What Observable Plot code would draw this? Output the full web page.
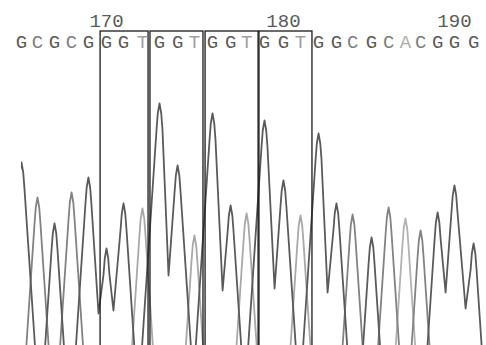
<!DOCTYPE html>
<html>
<head>
<meta charset="utf-8">
<script src="https://cdn.jsdelivr.net/npm/d3@7"></script>
<script src="https://cdn.jsdelivr.net/npm/@observablehq/plot@0.6"></script>
<style>
  html, body { margin: 0; padding: 0; background: #ffffff; }
  #chart svg { display: block; background: #ffffff; }
</style>
</head>
<body>
<div id="chart"></div>
<script>
// ---- data ----
const bases = "GCGCGGGTGGTGGTGGTGGCGCACGGG".split("");
const firstBaseNumber = 165;
// peak centre (base-position units) and peak intensity (arbitrary units)
const peakPos = [165.00, 165.92, 166.90, 167.88, 168.85, 169.89, 170.87, 171.96, 172.94,
                 173.98, 174.95, 175.99, 177.03, 177.95, 178.98, 180.07, 181.05, 182.09,
                 183.12, 184.05, 185.14, 186.12, 187.09, 187.96, 188.94, 189.91, 191.01];
const peakHeight = [3310, 2960, 2700, 3010, 3160, 2450, 2900, 2850, 3900,
                    3280, 2580, 3800, 2880, 2800, 3730, 3130, 2780, 3600,
                    2900, 2790, 2560, 2860, 2750, 2630, 2810, 3080, 2500];
// valleys between two neighbouring peaks of the same base (index of the left peak)
const valleyAfter  = [4, 5, 8, 11, 14, 17, 24, 25];
const valleyPos    = [169.43, 170.29, 173.46, 176.57, 179.56, 182.61, 189.40, 190.55];
const valleyHeight = [1800, 1830, 2180, 2030, 2050, 2010, 2010, 1850];
// position tick labels
const tickLabels = ["170", "180", "190"];
const tickBase   = [170, 180, 190];
// boxed GGT repeats
const boxStart = [169.55, 172.42, 175.59, 178.69];
const boxEnd   = [172.31, 175.47, 178.64, 181.74];

// ---- peak shape / styles ----
const sideSlope = 2600;              // intensity per base unit on the flanks
const tipShape = [[0.10, 100], [0.17, 260]];  // rounded tip: [half width, drop]
const traceColor = {G: "#5a5a5a", C: "#828282", T: "#a8a8a8", A: "#b2b2b2"};
const letterColor = {G: "#5a5a5a", C: "#7e7e7e", T: "#a0a0a0", A: "#acacac"};

// build one polyline per base channel
function traceFor(L) {
  const pts = [];
  const [sh, sd] = tipShape[tipShape.length - 1];
  bases.forEach((b, i) => {
    if (b !== L) return;
    const p = peakPos[i], h = peakHeight[i];
    const foot = sh + (h - sd) / sideSlope;
    if (i > 0 && bases[i - 1] === L) {
      const k = valleyAfter.indexOf(i - 1);
      pts.push({x: valleyPos[k], y: valleyHeight[k]});
    } else {
      pts.push({x: p - foot, y: 0});
    }
    for (let j = tipShape.length - 1; j >= 0; j--) pts.push({x: p - tipShape[j][0], y: h - tipShape[j][1]});
    pts.push({x: p, y: h});
    for (let j = 0; j < tipShape.length; j++) pts.push({x: p + tipShape[j][0], y: h - tipShape[j][1]});
    if (!(i + 1 < bases.length && bases[i + 1] === L)) {
      pts.push({x: p + foot, y: 0});
    }
  });
  return pts;
}

const letters = bases.map((b, i) => ({base: b, pos: peakPos[i]}));
const ticks = tickLabels.map((t, i) => ({label: t, pos: peakPos[tickBase[i] - firstBaseNumber]}));
const boxes = boxStart.map((s, i) => ({x1: s, x2: boxEnd[i]}));

const marks = [];
for (const L of ["A", "T", "C", "G"]) {
  marks.push(Plot.line(traceFor(L), {
    x: "x", y: "y", stroke: traceColor[L], strokeWidth: 1.8,
    strokeLinejoin: "round", curve: "linear", clip: true
  }));
}
marks.push(Plot.rect(boxes, {
  x1: "x1", x2: "x2", fill: "none", stroke: "#1a1a1a", strokeWidth: 1.3,
  insetBottom: -4
}));
for (const L of ["G", "C", "T", "A"]) {
  marks.push(Plot.text(letters.filter(d => d.base === L), {
    x: "pos", text: "base", frameAnchor: "top", lineAnchor: "middle", dy: 10,
    fill: letterColor[L], fontSize: 19, fontFamily: "Liberation Mono"
  }));
}
marks.push(Plot.text(ticks, {
  x: "pos", text: "label", frameAnchor: "top", lineAnchor: "middle", dy: -11,
  fill: "#5a5a5a", fontSize: 19, fontFamily: "Liberation Mono"
}));

const chart = Plot.plot({
  width: 486,
  height: 345,
  marginTop: 31,
  marginBottom: 0,
  marginLeft: 21,
  marginRight: 3,
  x: {domain: [165, 191.58], axis: null},
  y: {domain: [1480, 4620], axis: null},
  marks
});
document.getElementById("chart").appendChild(chart);
</script>
</body>
</html>
